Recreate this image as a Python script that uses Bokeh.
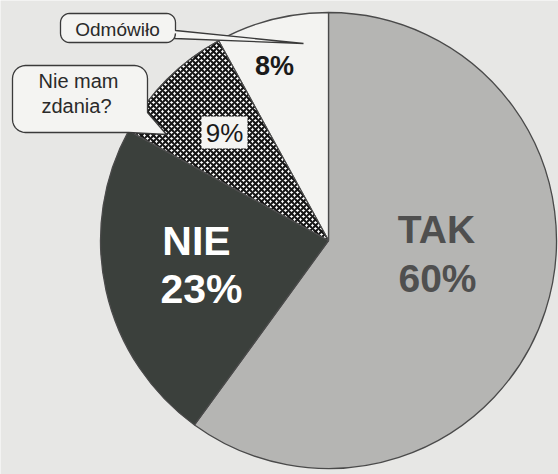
import numpy as np
from bokeh.plotting import figure
from bokeh.models import Range1d, ColumnDataSource
from bokeh.core.properties import value
from bokeh.embed import file_html
from bokeh.resources import INLINE

# ---- data ----
categories = ["TAK", "NIE", "Nie mam zdania?", "Odmówiło"]
shares = [60, 23, 9, 8]
pct_labels = ["60%", "23%", "9%", "8%"]

FONT = value("Liberation Sans")
W, H = 558, 474
p = figure(width=W, height=H, x_range=Range1d(0, W), y_range=Range1d(-H, 0),
           output_backend="svg", toolbar_location=None,
           x_axis_location=None, y_axis_location=None, min_border=0)
p.grid.visible = False
p.outline_line_color = None
p.background_fill_color = "#e7e7e5"
p.border_fill_color = "#e7e7e5"

# pie geometry (image pixel coords, y negated)
cx, cy, R = 328, -240, 228
frac = np.array(shares, dtype=float) / sum(shares)
ends = np.cumsum(frac)
starts = ends - frac
start_ang = np.pi / 2 - 2 * np.pi * ends
end_ang = np.pi / 2 - 2 * np.pi * starts
colors = ["#b5b5b3", "#3b403c", "#ffffff", "#f3f3f1"]

src = ColumnDataSource(dict(x=[cx] * 4, y=[cy] * 4, s=list(start_ang), e=list(end_ang),
                            c=colors, cat=categories))
p.wedge(x="x", y="y", radius=R, start_angle="s", end_angle="e", fill_color="c",
        line_color="#4a4a4a", line_width=1.3, source=src)
# checker-like texture for the 9% slice
i9 = 2
p.wedge(x=cx, y=cy, radius=R, start_angle=start_ang[i9], end_angle=end_ang[i9],
        fill_color="white", hatch_pattern="x", hatch_scale=6, hatch_weight=2.1,
        hatch_color="#151515", line_color="#4a4a4a", line_width=1.3)

# white box behind 9%
p.quad(left=[201], right=[247], top=[-116], bottom=[-148], fill_color="#f4f4f2",
       line_color=None)


def lab(x, y_base, texts, size, **kw):
    # position by cap middle (baseline - 0.36 em) with middle baseline
    ys = [-(yb - 0.36 * size) for yb in y_base]
    p.text(x=x, y=ys, text=texts, text_font=FONT, text_font_size=f"{size}px",
           text_align="center", text_baseline="middle", **kw)


lab([436, 437], [243, 292], [categories[0], pct_labels[0]], 39,
    text_font_style="bold", text_color="#4f4f4f")
lab([196, 201], [255, 303], [categories[1], pct_labels[1]], 41,
    text_font_style="bold", text_color="#ffffff")
lab([274], [75], [pct_labels[3]], 27, text_font_style="bold", text_color="#1a1a1a")
lab([224], [142], [pct_labels[2]], 26, text_color="#1a1a1a")


def rounded(x0, y0, x1, y1, r, tail_right=None, tail_br=None, n=8):
    """Rounded box in image coords, clockwise; optional tail."""
    pts = []
    def arc(cx_, cy_, a0, a1):
        for t in np.linspace(a0, a1, n):
            pts.append((cx_ + r * np.cos(t), cy_ + r * np.sin(t)))
    arc(x0 + r, y0 + r, np.pi, 1.5 * np.pi)          # top-left
    arc(x1 - r, y0 + r, 1.5 * np.pi, 2 * np.pi)      # top-right
    if tail_right:
        pts.extend(tail_right)
    if tail_br:
        pts.extend(tail_br)
    else:
        arc(x1 - r, y1 - r, 0, 0.5 * np.pi)          # bottom-right
    arc(x0 + r, y1 - r, 0.5 * np.pi, np.pi)          # bottom-left
    xs = [q[0] for q in pts]
    ys = [-q[1] for q in pts]
    return xs, ys


xs, ys = rounded(60, 13, 175, 42, 9,
                 tail_right=[(175, 30), (303, 43), (174, 38)])
p.patch(xs, ys, fill_color="#f4f4f2", line_color="#3a3a3a", line_width=1.3)
lab([117], [36], [categories[3]], 19, text_color="#2a2a2a")

xs, ys = rounded(12, 65, 147, 132, 13,
                 tail_br=[(147, 112), (166, 134), (128, 132)])
p.patch(xs, ys, fill_color="#f4f4f2", line_color="#3a3a3a", line_width=1.3)
lab([78, 76], [88, 113], ["Nie mam", "zdania?"], 20, text_color="#2a2a2a")

open("out.html", "w").write(file_html(p, INLINE))
